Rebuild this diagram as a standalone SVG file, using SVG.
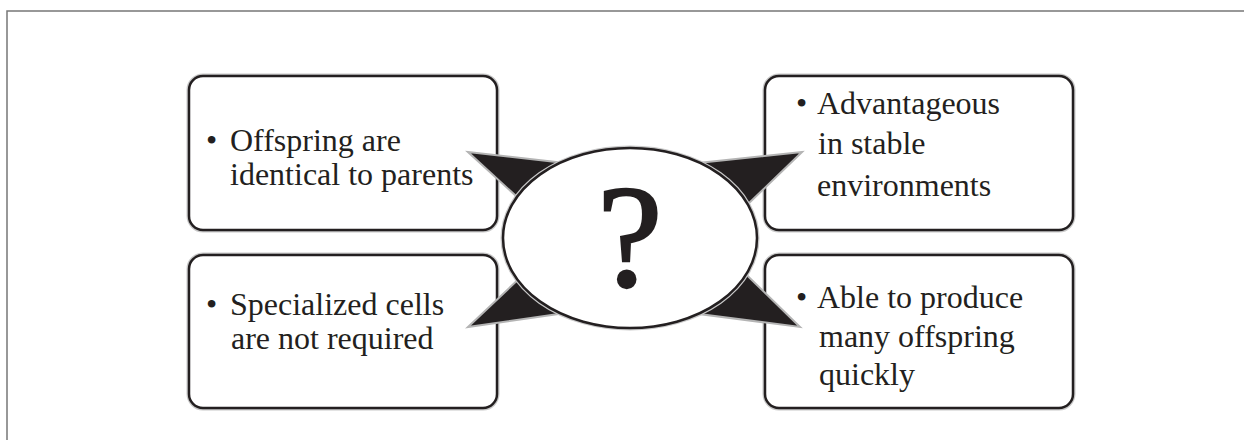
<svg xmlns="http://www.w3.org/2000/svg" width="1244" height="440" viewBox="0 0 1244 440">
<style>
.halo{fill:none;stroke:#c8c8c8;stroke-width:5}
.box{fill:#fff;stroke:#231f20;stroke-width:2.5}
.t{font-family:"Liberation Serif","Times New Roman",serif;font-size:32px;fill:#231f20}
.spike{fill:#231f20;stroke:#b4b4b4;stroke-width:2;stroke-linejoin:miter}
</style>
<rect x="7" y="11" width="1260" height="450" fill="#fff" stroke="#777" stroke-width="1.5"/>
<g id="node-tl">
<rect class="halo" x="189" y="76" width="308" height="154" rx="14"/>
<rect class="box" x="189" y="76" width="308" height="154" rx="14"/>
<text class="t" x="206" y="151">•</text>
<text class="t" x="230" y="151">Offspring are</text>
<text class="t" x="230" y="185">identical to parents</text>
</g>
<g id="node-bl">
<rect class="halo" x="189" y="255" width="308" height="153" rx="14"/>
<rect class="box" x="189" y="255" width="308" height="153" rx="14"/>
<text class="t" x="206" y="315">•</text>
<text class="t" x="230" y="315">Specialized cells</text>
<text class="t" x="231" y="349">are not required</text>
</g>
<g id="node-tr">
<rect class="halo" x="765" y="76" width="308" height="154" rx="14"/>
<rect class="box" x="765" y="76" width="308" height="154" rx="14"/>
<text class="t" x="796" y="114">•</text>
<text class="t" x="817" y="114">Advantageous</text>
<text class="t" x="818" y="154">in stable</text>
<text class="t" x="817" y="196">environments</text>
</g>
<g id="node-br">
<rect class="halo" x="765" y="255" width="308" height="153" rx="14"/>
<rect class="box" x="765" y="255" width="308" height="153" rx="14"/>
<text class="t" x="796" y="308">•</text>
<text class="t" x="817" y="308">Able to produce</text>
<text class="t" x="819" y="347">many offspring</text>
<text class="t" x="819" y="385">quickly</text>
</g>
<g id="connectors">
<polygon class="spike" points="468,152 600,167 540,218"/>
<polygon class="spike" points="802,152 660,167 720,231"/>
<polygon class="spike" points="468,327 540,259 600,308"/>
<polygon class="spike" points="800,327 720,249 660,309"/>
</g>
<g id="node-center">
<ellipse cx="630" cy="238" rx="127" ry="90" fill="none" stroke="#c8c8c8" stroke-width="5"/>
<ellipse cx="630" cy="238" rx="127" ry="90" fill="#fff" stroke="#231f20" stroke-width="2.5"/>
<text x="630" y="286" text-anchor="middle" font-family="'Liberation Serif','Times New Roman',serif" font-size="146" fill="#231f20" stroke="#231f20" stroke-width="2.5">?</text>
</g>
</svg>
